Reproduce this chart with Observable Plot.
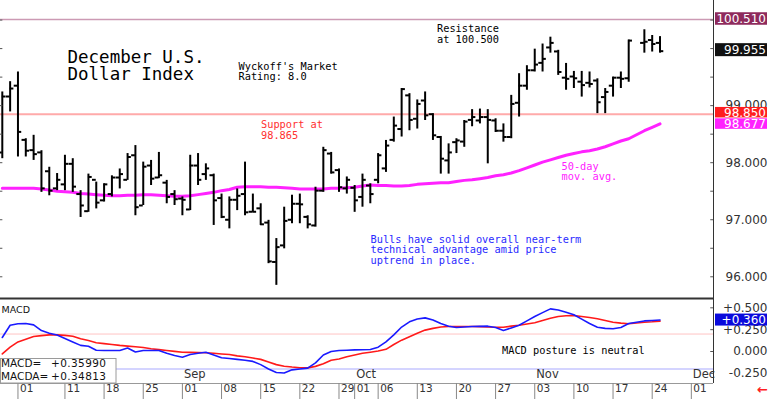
<!DOCTYPE html>
<html><head><meta charset="utf-8">
<script src="https://cdn.jsdelivr.net/npm/d3@7"></script>
<script src="https://cdn.jsdelivr.net/npm/@observablehq/plot@0.6"></script>
<style>
body{margin:0;background:#fff;}
#wrap{position:relative;width:768px;height:399px;overflow:hidden;background:#fff;}
#wrap svg{position:absolute;left:0;}
</style></head><body><div id="wrap"></div>
<script>
// ---------- DATA ----------
const open = [98.18,99.16,99.35,98.40,98.22,98.18,97.85,97.55,97.62,97.98,
97.45,97.15,97.70,97.34,97.45,97.74,97.70,98.13,97.25,97.95,
97.74,97.65,97.45,97.37,97.18,97.95,97.80,97.78,97.38,97.00,
97.35,97.45,97.14,97.20,96.95,96.26,96.55,97.00,97.28,97.05,
96.90,97.51,98.16,97.87,97.55,97.56,97.40,97.60,97.70,97.90,
98.40,98.59,99.18,98.77,99.09,98.85,98.45,98.04,98.36,98.37,
98.75,98.74,98.80,98.74,98.56,98.45,99.05,99.35,99.62,99.75,
100.02,99.95,99.49,99.51,99.42,99.40,99.44,99.15,99.35,99.49,
99.48,null,100.10,100.15,100.10];
const high = [99.24,99.42,99.59,98.42,98.48,98.21,97.92,97.81,98.13,98.07,
97.51,97.80,97.66,97.63,97.77,97.89,98.16,98.30,98.01,98.04,
98.18,97.69,97.51,97.40,98.13,98.16,97.98,97.80,97.45,97.40,
97.54,98.01,97.45,97.28,96.99,96.67,97.22,97.43,97.45,97.07,
97.57,98.27,98.18,97.89,97.75,97.60,97.80,97.63,98.16,98.39,
98.80,99.30,99.21,99.10,99.24,98.86,98.46,98.33,98.42,98.74,
98.93,98.94,98.93,98.77,98.68,99.18,99.56,99.70,99.99,100.08,
100.20,99.97,99.74,99.60,99.60,99.59,99.47,99.30,99.50,99.59,
100.15,null,100.33,100.23,100.21];
const low = [98.07,98.89,98.10,98.10,98.04,97.48,97.42,97.51,97.51,97.48,
97.04,97.13,97.19,97.31,97.40,97.54,97.69,97.07,97.25,97.60,
97.72,97.28,97.25,97.07,97.16,97.60,97.69,96.90,97.02,96.84,
97.16,97.07,97.13,96.90,96.23,95.85,96.49,96.93,96.93,96.84,
96.87,97.48,97.80,97.48,97.45,97.13,97.22,97.28,97.63,97.83,
98.36,98.45,98.56,98.59,98.74,98.39,97.80,97.80,98.16,98.27,
98.63,98.68,97.98,98.53,98.36,98.42,98.80,99.27,99.59,99.59,
99.92,99.53,99.27,99.30,99.15,99.31,98.86,98.86,99.15,99.30,
99.41,null,99.92,99.94,99.92];
const close = [99.16,99.30,98.54,98.21,98.15,97.55,97.51,97.70,97.98,97.58,
97.25,97.75,97.30,97.62,97.74,97.80,98.10,97.22,97.93,97.72,
97.78,97.40,97.36,97.35,97.95,97.70,97.90,97.34,97.05,97.35,
97.42,97.13,97.14,96.92,96.27,96.52,96.98,97.28,97.27,96.92,
97.51,98.22,97.83,97.57,97.70,97.34,97.70,97.45,98.13,98.30,
98.65,99.29,98.75,99.03,98.83,98.48,98.07,98.18,98.39,98.72,
98.80,98.80,98.75,98.56,98.45,99.03,99.35,99.62,99.72,99.82,
100.10,99.59,99.47,99.48,99.36,99.38,99.06,99.24,99.49,99.47,
100.14,null,100.12,100.08,99.955];
const ma50 = [97.55,97.55,97.55,97.55,97.55,97.54,97.52,97.50,97.49,97.48,
97.46,97.45,97.44,97.43,97.42,97.42,97.43,97.43,97.44,97.44,
97.43,97.42,97.41,97.41,97.42,97.44,97.46,97.48,97.51,97.53,
97.57,97.58,97.58,97.58,97.57,97.57,97.56,97.55,97.54,97.54,
97.54,97.54,97.55,97.55,97.56,97.57,97.59,97.61,97.60,97.60,
97.59,97.59,97.60,97.62,97.63,97.64,97.65,97.65,97.67,97.69,
97.70,97.72,97.74,97.77,97.79,97.82,97.86,97.91,97.96,98.01,
98.05,98.09,98.13,98.16,98.19,98.21,98.24,98.28,98.33,98.38,
98.42,98.49,98.56,98.62,98.68];
const macd = [0.16,0.30,0.317,0.32,0.305,0.24,0.21,0.19,0.15,0.11,
0.07,0.06,0.015,0.011,0.011,0.011,0.04,-0.005,0.011,0.011,
0.011,-0.02,-0.045,-0.065,-0.035,-0.02,-0.008,-0.04,-0.072,-0.08,
-0.09,-0.10,-0.113,-0.15,-0.20,-0.24,-0.245,-0.21,-0.20,-0.19,
-0.13,-0.04,0.0,0.011,0.015,0.019,0.021,0.023,0.05,0.11,
0.19,0.28,0.34,0.372,0.385,0.36,0.32,0.29,0.275,0.28,
0.286,0.288,0.29,0.275,0.24,0.27,0.30,0.35,0.40,0.445,
0.488,0.475,0.45,0.42,0.37,0.32,0.278,0.265,0.26,0.275,
0.32,null,0.35,0.355,0.36];
const macdAvg = [-0.027,0.05,0.11,0.14,0.172,0.182,0.19,0.19,0.185,0.175,
0.145,0.125,0.10,0.09,0.08,0.07,0.062,0.055,0.045,0.031,
0.022,0.012,0.002,-0.008,-0.01,-0.012,-0.015,-0.02,-0.028,-0.034,
-0.05,-0.06,-0.075,-0.09,-0.12,-0.15,-0.168,-0.178,-0.185,-0.187,
-0.17,-0.14,-0.10,-0.085,-0.06,-0.04,-0.02,-0.008,0.005,0.025,
0.08,0.13,0.17,0.21,0.245,0.265,0.28,0.286,0.286,0.286,
0.286,0.285,0.28,0.278,0.278,0.29,0.30,0.315,0.33,0.355,
0.38,0.40,0.41,0.412,0.40,0.39,0.375,0.355,0.335,0.325,
0.317,null,0.335,0.34,0.348];

const tickDates = ["2025-08-01","2025-08-11","2025-08-18","2025-08-25","2025-09-01","2025-09-08","2025-09-15","2025-09-22","2025-09-29","2025-10-01","2025-10-06","2025-10-13","2025-10-20","2025-10-27","2025-11-03","2025-11-10","2025-11-17","2025-11-24","2025-12-01"];
const tickLabels = ["01","11","18","25","01","08","15","22","29","01","06","13","20","27","03","10","17","24","01"];
const monthDates = ["2025-09-01","2025-10-01","2025-11-03","2025-12-01"];
const monthLabels = ["Sep","Oct","Nov","Dec"];
const priceTicks = [96,97,98,99];
const priceMinorTicks = [96,96.5,97,97.5,98,98.5,99,99.5,100,100.5];
const macdTicks = [0.5,0.25,0,-0.25];
const resistance = 100.51, support = 98.85, lastClose = 99.955, maLast = 98.677;
const macdLast = 0.35990, macdAvgLast = 0.34813, macdUpper = 0.2, macdLower = -0.2;

// ---------- trading calendar (weekdays) ----------
const days = [];
for (let t = Date.UTC(2025,6,30); t <= Date.UTC(2025,11,1); t += 864e5) {
  const d = new Date(t), w = d.getUTCDay();
  if (w > 0 && w < 6) days.push(d.toISOString().slice(0,10));
}
const idx = s => days.indexOf(s);
const ticks = tickDates.map((d,k) => ({i: idx(d), label: tickLabels[k]}));
const months = monthDates.map((d,k) => ({i: idx(d), label: monthLabels[k]}));

const bars = d3.range(open.length).filter(i => high[i] != null)
  .map(i => ({i, o: open[i], h: high[i], l: low[i], c: close[i]}));
const maRows = ma50.map((v,i) => ({i, v}));
const macdRows = d3.range(macd.length).filter(i => macd[i] != null)
  .map(i => ({i, m: macd[i], s: macdAvg[i]}));

const xDomain = [-0.23, 90.83];
const MONO = "DejaVu Sans Mono", SANS = "DejaVu Sans";
const note = (str, px, py, size, color) => Plot.text([str], {
  text: d => d, frameAnchor: "top-left", dx: px, dy: py, textAnchor: "start",
  lineAnchor: "middle", fontSize: size, fill: color, fontFamily: MONO});

// ---------- price panel ----------
const chart1 = Plot.plot({
  width: 768, height: 297, marginLeft: 0, marginRight: 55, marginTop: 0, marginBottom: 0,
  x: {domain: xDomain, axis: null},
  y: {domain: [95.637, 100.843], axis: null},
  style: {background: "transparent", fontFamily: SANS, overflow: "visible"},
  marks: [
    Plot.ruleY([resistance], {stroke: "#cc9ab4", strokeWidth: 1.5}),
    Plot.ruleY([support], {stroke: "#ffaaaa", strokeWidth: 2}),
    Plot.line(maRows, {x: "i", y: "v", stroke: "#ff22ff", strokeWidth: 3}),
    Plot.ruleX(bars, {x: "i", y1: "l", y2: "h", stroke: "#000", strokeWidth: 2}),
    Plot.ruleY(bars, {y: "o", x1: d => d.i - 0.48, x2: "i", stroke: "#000", strokeWidth: 2}),
    Plot.ruleY(bars, {y: "c", x1: "i", x2: d => d.i + 0.48, stroke: "#000", strokeWidth: 2}),
    Plot.ruleX([xDomain[1]], {stroke: "#333", strokeWidth: 1}),
    Plot.ruleY(priceMinorTicks, {y: d => d, x1: xDomain[1] - 0.35, x2: xDomain[1], stroke: "#555"}),
    Plot.ruleY(priceMinorTicks, {y: d => d, x1: xDomain[0], x2: xDomain[0] + 0.3, stroke: "#555"}),
    Plot.text(priceTicks, {y: d => d, text: d => d.toFixed(3), frameAnchor: "right", dx: 54,
      textAnchor: "end", fontSize: 12, fill: "#333", fontFamily: SANS}),
    note("December U.S.", 67, 57, 17.5, "#000"),
    note("Dollar Index", 67, 73.5, 17.5, "#000"),
    note("Wyckoff's Market", 238, 66, 10.3, "#000"),
    note("Rating: 8.0", 238, 76.5, 10.3, "#000"),
    note("Resistance", 436.5, 28, 10.3, "#000"),
    note("at 100.500", 436.5, 38.8, 10.3, "#000"),
    note("Support at", 260.5, 124.5, 10.3, "#ff3030"),
    note("98.865", 260.5, 135.3, 10.3, "#ff3030"),
    note("Bulls have solid overall near-term", 370, 239, 10.3, "#2a2aff"),
    note("technical advantage amid price", 370, 249.7, 10.3, "#2a2aff"),
    note("uptrend in place.", 370, 260.3, 10.3, "#2a2aff"),
    note("50-day", 561, 165.8, 10.3, "#ff22ff"),
    note("mov. avg.", 561, 176.3, 10.3, "#ff22ff")
  ]
});

// ---------- MACD panel + date axis ----------
const chart2 = Plot.plot({
  width: 768, height: 102, marginLeft: 0, marginRight: 55, marginTop: 0, marginBottom: 16,
  x: {domain: xDomain, axis: null},
  y: {domain: [-0.366, 0.618], axis: null},
  style: {background: "transparent", fontFamily: SANS, overflow: "visible"},
  marks: [
    Plot.ruleY([macdUpper], {stroke: "#ffc4c4", strokeWidth: 1}),
    Plot.ruleY([macdLower], {stroke: "#d4d4ff", strokeWidth: 2}),
    Plot.text(months, {x: "i", text: "label", frameAnchor: "bottom", dy: -6, dx: 1.5,
      textAnchor: "start", fontSize: 11.5, fill: "#333", fontFamily: SANS}),
    Plot.line(macdRows, {x: "i", y: "s", stroke: "#ff1a1a", strokeWidth: 1.6}),
    Plot.line(macdRows, {x: "i", y: "m", stroke: "#1a1aff", strokeWidth: 1.6}),
    Plot.ruleY([0.618], {stroke: "#333", strokeWidth: 2, dy: 1}),
    Plot.ruleY([-0.366], {stroke: "#999", strokeWidth: 1}),
    Plot.ruleX([xDomain[1]], {stroke: "#333", strokeWidth: 1}),
    Plot.ruleY(macdTicks, {y: d => d, x1: xDomain[1] - 0.35, x2: xDomain[1], stroke: "#555"}),
    Plot.text(macdTicks, {y: d => d, text: d => (d > 0 ? "+" : "") + d.toFixed(3),
      frameAnchor: "right", dx: 54, textAnchor: "end", fontSize: 12, fill: "#333", fontFamily: SANS}),
    Plot.ruleX(ticks, {x: "i", y1: -0.366, y2: -0.56, stroke: "#888"}),
    Plot.text(ticks, {x: "i", text: "label", frameAnchor: "bottom", dy: 8, dx: 2,
      textAnchor: "start", fontSize: 10.5, fill: "#333", fontFamily: SANS}),
    Plot.text(["MACD"], {text: d => d, frameAnchor: "top-left", dx: 1, dy: 9,
      textAnchor: "start", fontSize: 9.5, fill: "#111", fontFamily: SANS}),
    note("MACD posture is neutral", 501.5, 53.7, 10.3, "#000"),
    Plot.text(["\u2190"], {text: d => d, frameAnchor: "bottom-right", dx: 49, dy: 10,
      textAnchor: "middle", fontSize: 13, fontWeight: "bold", fill: "#ff2020", fontFamily: SANS})
  ]
});

// ---------- right-axis value boxes and MACD legend ----------
function box(svg, yPix, h, fill, label) {
  const g = d3.select(svg).append("g");
  g.append("rect").attr("x", 715).attr("y", yPix - h / 2).attr("width", 52).attr("height", h).attr("fill", fill);
  g.append("text").attr("x", 766).attr("y", yPix).attr("dy", "0.36em").attr("text-anchor", "end")
    .attr("font-family", SANS).attr("font-size", 12).attr("fill", "#fff").text(label);
}
const y1 = chart1.scale("y"), y2 = chart2.scale("y");
box(chart1, y1.apply(resistance) - 0.5, 12.5, "#8e2a5c", resistance.toFixed(3));
box(chart1, y1.apply(lastClose) - 1, 13, "#111", lastClose.toFixed(3));
box(chart1, y1.apply(support) - 1.5, 10.5, "#ff1e1e", support.toFixed(3));
box(chart1, y1.apply(maLast), 10.5, "#ff22ff", maLast.toFixed(3));
box(chart2, y2.apply(macdLast), 12, "#0a0adc", "+" + macdLast.toFixed(3));

const lg = d3.select(chart2).append("g").attr("font-family", SANS).attr("font-size", 10.5)
  .attr("fill", "#111").attr("text-anchor", "start");
lg.append("rect").attr("x", 0.5).attr("y", 61.5).attr("width", 115.5).attr("height", 24.5)
  .attr("fill", "#fff").attr("stroke", "#9a9a9a");
[["MACD=", macdLast, 66.6], ["MACDA=", macdAvgLast, 79.3]].forEach(([k, v, yy]) => {
  lg.append("text").attr("x", 1).attr("y", yy).attr("dy", "0.36em").attr("text-anchor", "start").text(k);
  lg.append("text").attr("x", 51).attr("y", yy).attr("dy", "0.36em").attr("text-anchor", "start")
    .attr("letter-spacing", 0.4).text("+" + v.toFixed(5));
});

const wrap = document.getElementById("wrap");
chart1.style.top = "0px";
chart2.style.top = "297px";
wrap.appendChild(chart1);
wrap.appendChild(chart2);
</script>
</body></html>
